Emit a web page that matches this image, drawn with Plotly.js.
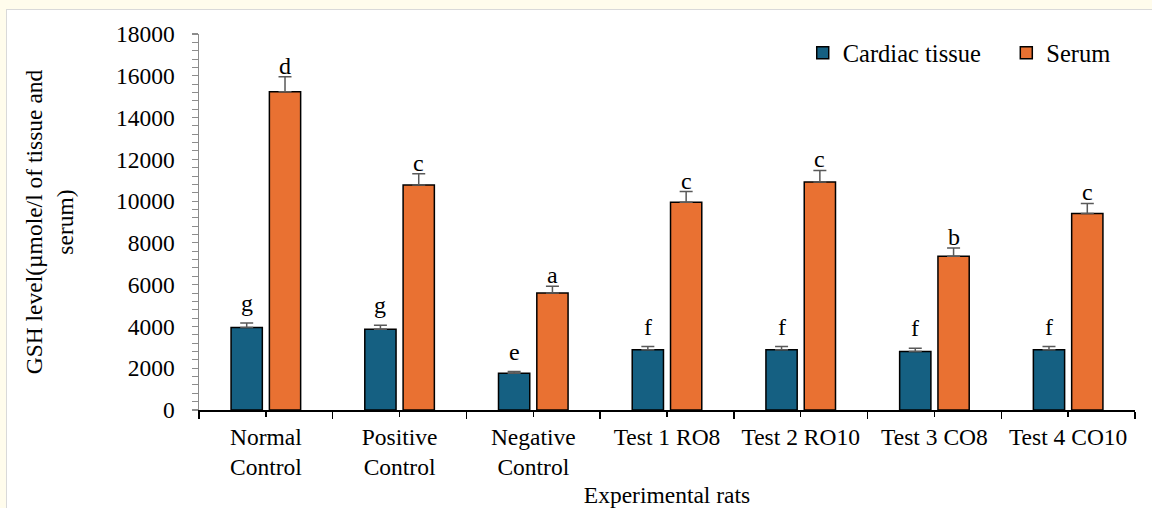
<!DOCTYPE html>
<html>
<head>
<meta charset="utf-8">
<script src="https://cdn.plot.ly/plotly-3.0.1.min.js"></script>
<style>
  html, body { margin: 0; padding: 0; background: #fffcec; width: 1152px; height: 508px; overflow: hidden; }
  #wrap { position: absolute; left: 6px; top: 9px; width: 1146px; height: 499px; border-left: 1px solid #d9d9d9; border-top: 1px solid #d9d9d9; background: #fff; }
  #chart { width: 1145px; height: 498px; }
</style>
</head>
<body>
<div id="wrap"><div id="chart"></div></div>
<script>
const categories = ['Normal<br>Control', 'Positive<br>Control', 'Negative<br>Control', 'Test 1 RO8', 'Test 2 RO10', 'Test 3 CO8', 'Test 4 CO10'];
const cardiac = [3950, 3870, 1760, 2880, 2880, 2800, 2880];
const cardiacErr = [210, 190, 80, 160, 160, 160, 160];
const serum = [15230, 10770, 5600, 9950, 10910, 7360, 9410];
const serumErr = [720, 540, 320, 510, 560, 400, 480];
const cardiacLetters = ['g', 'g', 'e', 'f', 'f', 'f', 'f'];
const serumLetters = ['d', 'c', 'a', 'c', 'c', 'b', 'c'];

const FONT = 'Liberation Serif, Times New Roman, serif';
const FS = 23.5;
const BARGAP = 0.427, GROUPGAP = 0.184;
const slot = (1 - BARGAP) / 2;
const idx = categories.map((_, i) => i);
const zeros = categories.map(() => 0);

const errStyle = { color: '#595959', thickness: 1.5, width: 6.5 };

const traces = [
  {
    type: 'bar', name: 'Cardiac tissue', x: idx, y: cardiac, legend: 'legend',
    marker: { color: '#156082', line: { color: '#000', width: 1.5 } },
    error_y: Object.assign({ type: 'data', symmetric: false, array: cardiacErr, arrayminus: zeros }, errStyle),
    hoverinfo: 'y'
  },
  {
    type: 'bar', name: 'Serum', x: idx, y: serum, legend: 'legend2',
    marker: { color: '#E97132', line: { color: '#000', width: 1.5 } },
    error_y: Object.assign({ type: 'data', symmetric: false, array: serumErr, arrayminus: zeros }, errStyle),
    hoverinfo: 'y'
  }
];

const annotations = [];
idx.forEach(i => {
  annotations.push({ x: i - slot / 2, y: cardiac[i] + cardiacErr[i], text: cardiacLetters[i], showarrow: false, yanchor: 'bottom', yshift: 5, font: { family: FONT, size: 24, color: '#000' } });
  annotations.push({ x: i + slot / 2, y: serum[i] + serumErr[i], text: serumLetters[i], showarrow: false, yanchor: 'bottom', yshift: -4, font: { family: FONT, size: 24, color: '#000' } });
});

const legendStyle = { orientation: 'h', xanchor: 'left', y: 1.01, yanchor: 'top', font: { family: FONT, size: 24.5, color: '#000' }, bgcolor: 'rgba(0,0,0,0)', itemwidth: 30 };

const layout = {
  width: 1145, height: 498,
  margin: { l: 192, r: 17, t: 24, b: 98 },
  paper_bgcolor: '#fff', plot_bgcolor: '#fff',
  font: { family: FONT, size: FS, color: '#000' },
  barmode: 'group', bargap: BARGAP, bargroupgap: GROUPGAP,
  showlegend: true,
  legend: Object.assign({ x: 0.645 }, legendStyle),
  legend2: Object.assign({ x: 0.8625 }, legendStyle),
  xaxis: {
    range: [-0.5, categories.length - 0.5],
    tickmode: 'array', tickvals: idx, ticktext: categories,
    ticks: 'outside', ticklen: 5, tickcolor: '#000', tickwidth: 1.5,
    minor: { tickmode: 'linear', tick0: -0.5, dtick: 1, ticks: 'outside', ticklen: 7, tickcolor: '#000', tickwidth: 1.5, showgrid: false },
    showline: true, linecolor: '#000', linewidth: 1.5,
    showgrid: false, zeroline: false, fixedrange: true,
    tickfont: { family: FONT, size: FS, color: '#000' },
    title: { text: 'Experimental rats', font: { family: FONT, size: FS, color: '#000' }, standoff: 7 },
    automargin: false
  },
  yaxis: {
    range: [0, 18000], tickmode: 'linear', tick0: 0, dtick: 2000, tickformat: 'd',
    ticks: 'outside', ticklen: 6, tickcolor: '#8c8c8c', tickwidth: 1.2,
    minor: { dtick: 400, ticks: 'outside', ticklen: 6, tickcolor: '#8c8c8c', tickwidth: 1, showgrid: false },
    showline: true, linecolor: '#8c8c8c', linewidth: 1.5,
    showgrid: false, zeroline: false, fixedrange: true,
    ticklabelstandoff: 12,
    tickfont: { family: FONT, size: FS, color: '#000' },
    title: { text: 'GSH level(µmole/l of tissue and<br>serum)', font: { family: FONT, size: FS, color: '#000' }, standoff: 36 },
    automargin: false
  },
  annotations: annotations
};

Plotly.newPlot('chart', traces, layout, { displayModeBar: false, staticPlot: true });
</script>
</body>
</html>
